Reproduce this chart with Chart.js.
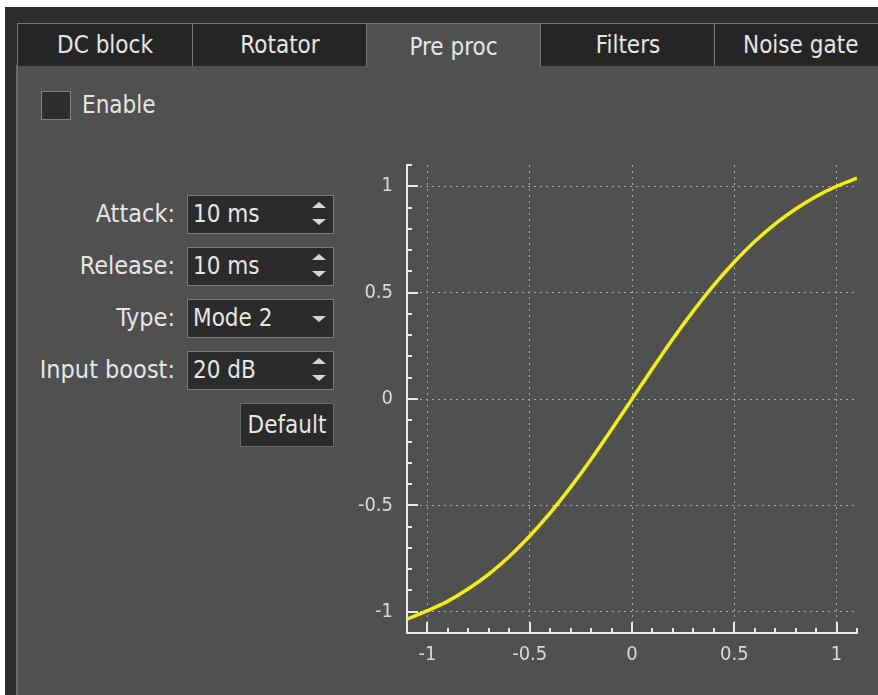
<!DOCTYPE html>
<html>
<head>
<meta charset="utf-8">
<script src="https://cdn.jsdelivr.net/npm/chart.js@4.4.1/dist/chart.umd.min.js"></script>
<style>
body { margin: 0; width: 878px; height: 695px; background: #fff; overflow: hidden; position: relative;
       font-family: "DejaVu Sans Condensed", "DejaVu Sans", sans-serif; font-stretch: condensed;
       font-size: 24px; color: #e6e6e6; }
#frame { position: absolute; left: 5px; top: 7px; width: 873px; height: 688px; background: #2d2d2d; }
.tab { position: absolute; top: 23px; height: 43px; background: #252525; border: 1px solid #767676;
       border-bottom: none; box-sizing: border-box; text-align: center; line-height: 42px; }
.tab.sel { background: #505050; height: 44px; z-index: 3; line-height: 46px; }
#panel { position: absolute; left: 16px; top: 65px; width: 880px; height: 640px; background: #505050;
         border-left: 2px solid #6a6a6a; border-top: 1px solid #767676; box-sizing: border-box; }
.lbl { position: absolute; right: 703px; height: 38px; line-height: 38px; text-align: right; white-space: nowrap; font-size: 25px; }
.box { position: absolute; left: 187px; width: 147px; height: 39px; background: #2b2b2b; border: 1px solid #7a7a7a;
       box-sizing: border-box; padding-left: 5px; line-height: 37px; }
.up, .dn { position: absolute; left: 124px; width: 0; height: 0; border-left: 7px solid transparent; border-right: 7px solid transparent; }
.up { top: 6px; border-bottom: 6px solid #d6d6d6; }
.dn { top: 23px; border-top: 6px solid #d6d6d6; }
.dd { position: absolute; left: 124px; top: 16px; width: 0; height: 0; border-left: 7px solid transparent;
      border-right: 7px solid transparent; border-top: 6px solid #d6d6d6; }
#chartBox { position: absolute; left: 340px; top: 150px; width: 538px; height: 545px; }
</style>
</head>
<body>
<div id="frame"></div>
<div id="panel"></div>
<div class="tab" style="left:17px;width:176px">DC block</div>
<div class="tab" style="left:192px;width:176px">Rotator</div>
<div class="tab sel" style="left:366px;width:175px">Pre proc</div>
<div class="tab" style="left:540px;width:176px">Filters</div>
<div class="tab" style="left:714px;width:176px;text-align:left;padding-left:28px">Noise gate</div>

<div style="position:absolute;left:41px;top:91px;width:30px;height:29px;background:#2d2d2d;border:1px solid #808080;box-sizing:border-box"></div>
<div style="position:absolute;left:82px;top:91px;line-height:29px">Enable</div>

<div class="lbl" style="top:195px">Attack:</div>
<div class="box" style="top:195px">10 ms<div class="up"></div><div class="dn"></div></div>
<div class="lbl" style="top:247px">Release:</div>
<div class="box" style="top:247px">10 ms<div class="up"></div><div class="dn"></div></div>
<div class="lbl" style="top:299px">Type:</div>
<div class="box" style="top:299px">Mode 2<div class="dd"></div></div>
<div class="lbl" style="top:351px">Input boost:</div>
<div class="box" style="top:351px">20 dB<div class="up"></div><div class="dn"></div></div>
<div style="position:absolute;left:240px;top:403px;width:94px;height:44px;background:#2b2b2b;border:1px solid #6a6a6a;box-sizing:border-box;text-align:center;line-height:42px">Default</div>

<div id="chartBox"><canvas id="curve" width="538" height="545"></canvas></div>

<script>
// transfer curve
var inputLevels = [-1.1, -1.0, -0.9, -0.8, -0.7, -0.6, -0.5, -0.4, -0.3, -0.2, -0.1, 0,
                   0.1, 0.2, 0.3, 0.4, 0.5, 0.6, 0.7, 0.8, 0.9, 1.0, 1.1];
var outputLevels = [-1.035, -0.995, -0.95, -0.892, -0.823, -0.74, -0.644, -0.535, -0.414, -0.283, -0.143, 0,
                    0.143, 0.283, 0.414, 0.535, 0.644, 0.74, 0.823, 0.893, 0.952, 1.0, 1.038];
var xTicks = [-1, -0.5, 0, 0.5, 1];
var yTicks = [-1, -0.5, 0, 0.5, 1];

var points = [];
for (var i = 0; i < inputLevels.length; i++) {
    points.push({x: inputLevels[i], y: outputLevels[i]});
}

// ticks on this plot point inwards, majors long, minors short
var innerTicks = {
    id: 'innerTicks',
    beforeDatasetsDraw: function(chart) {
        var ctx = chart.ctx;
        var area = chart.chartArea;
        var xs = chart.scales.x;
        var ys = chart.scales.y;
        ctx.save();
        ctx.strokeStyle = '#e8e8e8';
        ctx.lineWidth = 2;
        ctx.beginPath();
        for (var i = -11; i <= 11; i++) {
            var len = (i % 5 === 0) ? 11 : 5;
            var px = Math.round(xs.getPixelForValue(i / 10));
            ctx.moveTo(px, area.bottom);
            ctx.lineTo(px, area.bottom - len);
            var py = Math.round(ys.getPixelForValue(i / 10));
            ctx.moveTo(area.left, py);
            ctx.lineTo(area.left + len, py);
        }
        ctx.stroke();
        ctx.restore();
    }
};

Chart.defaults.font.family = "'DejaVu Sans Condensed', 'DejaVu Sans', sans-serif";
Chart.defaults.font.size = 20;
Chart.defaults.color = '#d8d8d8';

new Chart(document.getElementById('curve'), {
    type: 'line',
    data: {
        datasets: [{
            data: points,
            borderColor: '#f2f200',
            borderWidth: 3.5,
            pointRadius: 0,
            cubicInterpolationMode: 'monotone'
        }]
    },
    options: {
        responsive: false,
        animation: false,
        layout: { padding: { top: 15, right: 21, left: 0, bottom: 0 } },
        plugins: { legend: { display: false }, tooltip: { enabled: false } },
        scales: {
            x: {
                type: 'linear',
                min: -1.1,
                max: 1.1,
                afterBuildTicks: function(scale) {
                    scale.ticks = xTicks.map(function(v) { return {value: v}; });
                },
                afterFit: function(scale) {
                    scale.height = 62;
                    scale.paddingLeft = 0;
                    scale.paddingRight = 0;
                },
                ticks: {
                    padding: 10,
                    maxRotation: 0,
                    callback: function(v) { return String(v); }
                },
                grid: { color: '#a8a8a8', lineWidth: 1, drawTicks: false },
                border: { display: true, color: '#e8e8e8', width: 2, dash: [2, 4] }
            },
            y: {
                type: 'linear',
                min: -1.1,
                max: 1.1,
                afterBuildTicks: function(scale) {
                    scale.ticks = yTicks.map(function(v) { return {value: v}; });
                },
                afterFit: function(scale) {
                    scale.width = 67;
                    scale.paddingTop = 0;
                    scale.paddingBottom = 0;
                },
                ticks: {
                    padding: 14,
                    callback: function(v) { return String(v); }
                },
                grid: { color: '#a8a8a8', lineWidth: 1, drawTicks: false },
                border: { display: true, color: '#e8e8e8', width: 2, dash: [2, 4] }
            }
        }
    },
    plugins: [innerTicks]
});
</script>
</body>
</html>
